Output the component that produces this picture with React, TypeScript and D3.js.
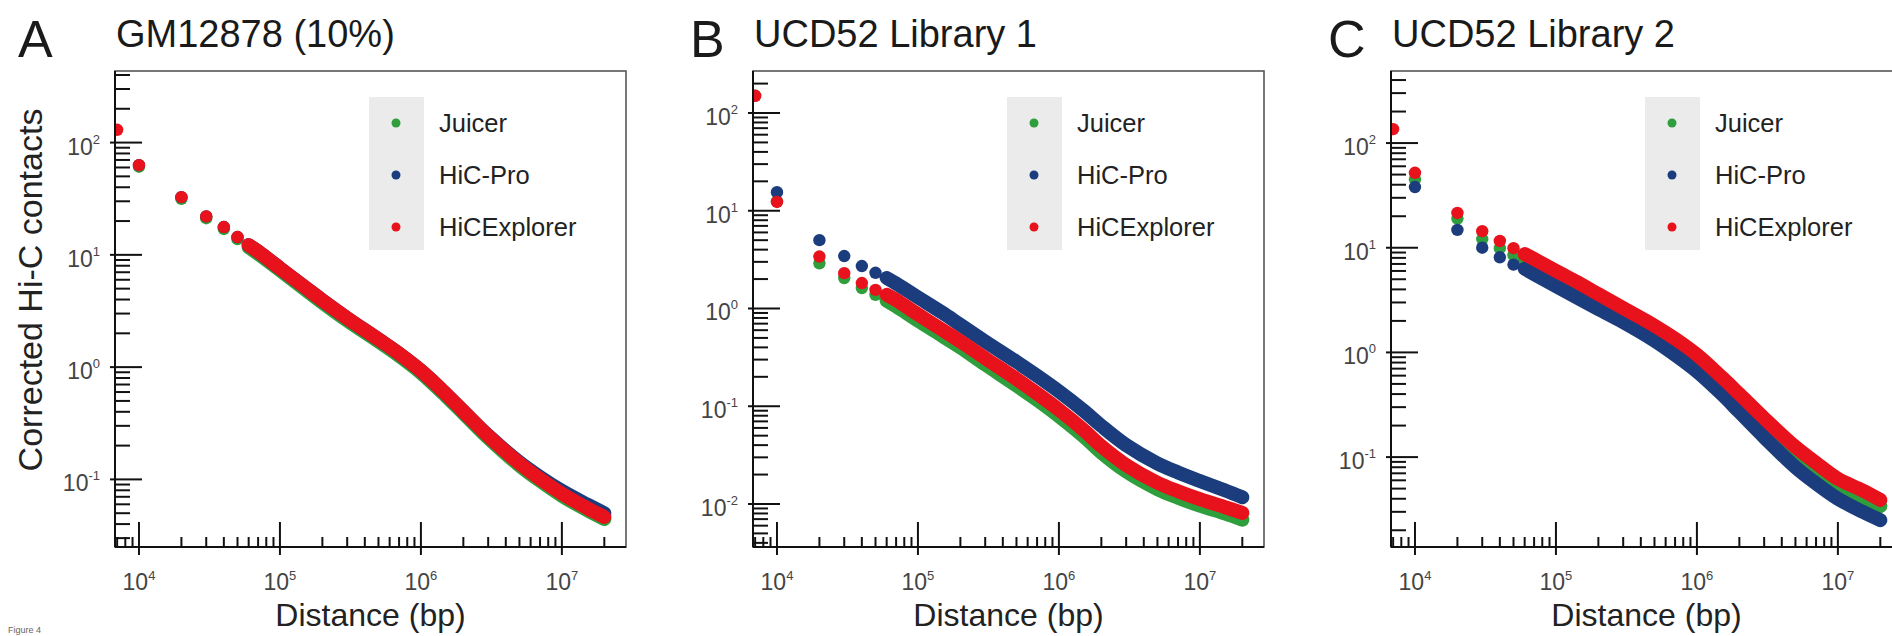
import React from 'react';
import * as d3 from 'd3';

const distances = [7e3, 1e4, 2e4, 3e4, 4e4, 5e4, 6e4, 7e4, 1e5, 1.5e5, 2e5, 3e5, 5e5, 7e5, 1e6, 1.5e6, 2e6, 3e6, 5e6, 7e6, 1e7, 1.5e7, 2e7];

// Panel A - GM12878 (10%)
const juicerA = [null, 61, 31.5, 21.2, 17, 13.8, 11.7, 10.2, 7.3, 4.95, 3.76, 2.6, 1.69, 1.26, 0.89, 0.555, 0.388, 0.234, 0.133, 0.097, 0.0715, 0.0535, 0.0443];
const hicproA = [null, 63, 32.7, 22, 17.7, 14.4, 12.2, 10.7, 7.6, 5.17, 3.93, 2.73, 1.77, 1.32, 0.93, 0.58, 0.405, 0.246, 0.142, 0.105, 0.079, 0.06, 0.05];
const hicexplorerA = [130, 63, 32.7, 22, 17.7, 14.4, 12.2, 10.7, 7.6, 5.17, 3.93, 2.73, 1.77, 1.32, 0.93, 0.58, 0.405, 0.244, 0.139, 0.101, 0.0747, 0.0558, 0.0463];

// Panel B - UCD52 Library 1
const juicerB = [150, 12.5, 2.9, 2.05, 1.62, 1.38, 1.2, 1.05, 0.75, 0.52, 0.4, 0.267, 0.163, 0.116, 0.079, 0.049, 0.0335, 0.0215, 0.0142, 0.0116, 0.0096, 0.008, 0.0069];
const hicproB = [null, 15.5, 5.0, 3.44, 2.72, 2.32, 2.05, 1.8, 1.3, 0.9, 0.68, 0.46, 0.285, 0.205, 0.142, 0.09, 0.063, 0.04, 0.026, 0.021, 0.0172, 0.0138, 0.0117];
const hicexplorerB = [150, 12.3, 3.4, 2.3, 1.82, 1.55, 1.38, 1.22, 0.87, 0.6, 0.46, 0.31, 0.19, 0.135, 0.092, 0.057, 0.039, 0.025, 0.0165, 0.0135, 0.0112, 0.0093, 0.0081];

// Panel C - UCD52 Library 2
const juicerC = [null, 45, 19, 12.1, 9.9, 8.5, 7.6, 6.8, 5.2, 3.9, 3.1, 2.3, 1.56, 1.17, 0.82, 0.5, 0.345, 0.2, 0.107, 0.075, 0.054, 0.041, 0.034];
const hicproC = [null, 38, 14.8, 10, 8.1, 6.9, 6.3, 5.6, 4.3, 3.2, 2.6, 1.95, 1.3, 0.95, 0.66, 0.4, 0.27, 0.155, 0.08, 0.056, 0.04, 0.03, 0.025];
const hicexplorerC = [136, 52, 21.5, 14.4, 11.6, 9.9, 8.7, 7.8, 6.0, 4.5, 3.6, 2.65, 1.8, 1.35, 0.95, 0.58, 0.4, 0.235, 0.125, 0.088, 0.062, 0.048, 0.039];

const panelLetters = ['A', 'B', 'C'];
const panelTitles = ['GM12878 (10%)', 'UCD52 Library 1', 'UCD52 Library 2'];
const panelSeries = [
  [juicerA, hicproA, hicexplorerA],
  [juicerB, hicproB, hicexplorerB],
  [juicerC, hicproC, hicexplorerC],
];
const yDomains = [[0.025, 434], [0.00363, 269], [0.01384, 488]];
const xDomain = [6760, 2.85e7];

const seriesNames = ['Juicer', 'HiC-Pro', 'HiCExplorer'];
const seriesColors = ['#2f9e3c', '#1b3d7d', '#e8121c'];

const W = 1892;
const H = 636;
const axisXs = [115, 753, 1391];
const plotW = 511;
const top = 71;
const bottom = 547;
const bandFrom = 6e4; // points get dense from here on
const font = 'Liberation Sans, Arial, Helvetica, sans-serif';

const Panel = ({ idx }) => {
  const x0 = axisXs[idx];
  const x = d3.scaleLog().domain(xDomain).range([x0, x0 + plotW]);
  const y = d3.scaleLog().domain(yDomains[idx]).range([bottom, top]);

  const isMajor = v => Math.abs(Math.log10(v) - Math.round(Math.log10(v))) < 1e-6;
  const xTicks = x.ticks();
  const yTicks = y.ticks();

  const line = d3.line()
    .x(d => x(d[0]))
    .y(d => y(d[1]))
    .curve(d3.curveCatmullRom.alpha(0.5));

  const clipId = `clip-${idx}`;
  const legendX = x0 + 254;
  const legendYs = [123, 175, 227];

  return (
    <g>
      <defs>
        <clipPath id={clipId}>
          <rect x={x0} y={top} width={plotW} height={bottom - top} />
        </clipPath>
      </defs>

      {/* panel letter and title */}
      <text x={idx === 0 ? 18 : x0 - 63} y={57} fontSize={52} fill="#1a1a1a">{panelLetters[idx]}</text>
      <text x={x0 + 1} y={47} fontSize={38} fill="#1a1a1a">{panelTitles[idx]}</text>

      {/* frame */}
      <rect x={x0} y={top} width={plotW} height={bottom - top} fill="white" stroke="#555" strokeWidth={1.6} />

      {/* legend */}
      <rect x={legendX} y={97} width={55} height={153} fill="#ebebeb" />
      {seriesNames.map((name, i) => (
        <g key={name}>
          <circle cx={legendX + 27} cy={legendYs[i]} r={4.5} fill={seriesColors[i]} />
          <text x={legendX + 70} y={legendYs[i] + 9} fontSize={25.5} fill="#222">{name}</text>
        </g>
      ))}

      {/* data */}
      <g clipPath={`url(#${clipId})`}>
        {panelSeries[idx].map((vals, si) => {
          const pts = distances.map((d, i) => [d, vals[i]]).filter(p => p[1] != null);
          const band = pts.filter(p => p[0] >= bandFrom);
          return (
            <g key={si}>
              <path d={line(band)} fill="none" stroke={seriesColors[si]} strokeWidth={14} strokeLinecap="round" strokeLinejoin="round" />
              {pts.map((p, i) => (
                <circle key={i} cx={x(p[0])} cy={y(p[1])} r={6.2} fill={seriesColors[si]} />
              ))}
            </g>
          );
        })}
      </g>

      {/* axes */}
      <line x1={x0} x2={x0} y1={top} y2={bottom} stroke="#111" strokeWidth={2} />
      <line x1={x0} x2={x0 + plotW} y1={bottom} y2={bottom} stroke="#111" strokeWidth={2} />

      {yTicks.map((v, i) => {
        const major = isMajor(v);
        const yy = y(v);
        return (
          <g key={`y${i}`}>
            <line x1={major ? x0 - 5 : x0} x2={x0 + (major ? 27 : 15)} y1={yy} y2={yy} stroke="#111" strokeWidth={2} />
            {major && (
              <text x={x0 - 15} y={yy + 12} fontSize={23} fill="#444" textAnchor="end">
                10<tspan fontSize={13} dy={-11}>{Math.round(Math.log10(v))}</tspan>
              </text>
            )}
          </g>
        );
      })}

      {xTicks.map((v, i) => {
        const major = isMajor(v);
        const xx = x(v);
        return (
          <g key={`x${i}`}>
            <line x1={xx} x2={xx} y1={major ? bottom + 8 : bottom} y2={bottom - (major ? 25 : 10)} stroke="#111" strokeWidth={2} />
            {major && (
              <text x={xx} y={590} fontSize={23} fill="#444" textAnchor="middle">
                10<tspan fontSize={13} dy={-10}>{Math.round(Math.log10(v))}</tspan>
              </text>
            )}
          </g>
        );
      })}

      <text x={x0 + plotW / 2} y={626} fontSize={32} fill="#222" textAnchor="middle">Distance (bp)</text>
    </g>
  );
};

export default function App() {
  return (
    <svg width={W} height={H} style={{ position: 'absolute', left: 0, top: 0, background: 'white' }} fontFamily={font}>
      <rect width={W} height={H} fill="white" />
      {[0, 1, 2].map(i => <Panel key={i} idx={i} />)}
      <text transform="translate(42,290) rotate(-90)" fontSize={34} fill="#222" textAnchor="middle">Corrected Hi-C contacts</text>
      <text x={8} y={633} fontSize={9} fill="#666">Figure 4</text>
    </svg>
  );
}
